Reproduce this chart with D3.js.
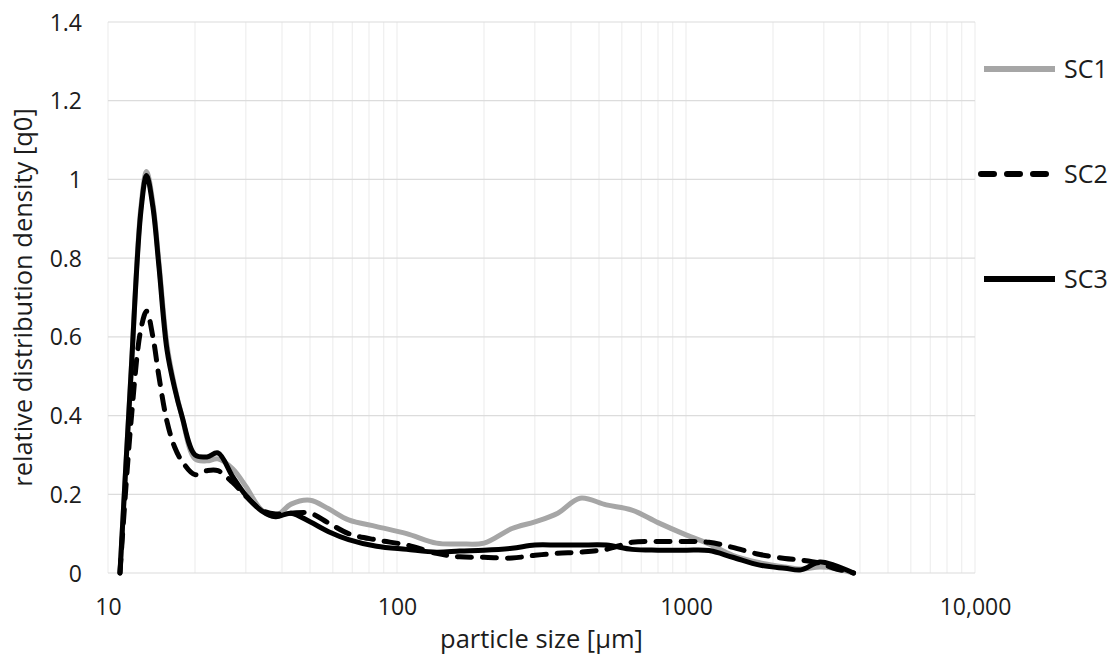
<!DOCTYPE html>
<html>
<head>
<meta charset="utf-8">
<script src="https://cdn.jsdelivr.net/npm/d3@7"></script>
<style>
  html, body { margin: 0; padding: 0; background: #fff; overflow: hidden; }
  svg { display: block; }
  svg text { font-family: "Open Sans", "Noto Sans", sans-serif; fill: #1c1c1c; }
  .tick text { font-size: 23px; }
  .axis-label { font-size: 25.5px; }
  .legend text { font-size: 25px; }
</style>
</head>
<body>
<svg width="1114" height="659"></svg>
<script>
// particle size bins [µm]
const sizes = [11, 12, 13, 13.6, 14.3, 15, 16, 17, 18, 20, 22, 24, 27, 30, 34, 38, 43, 50, 58, 68, 85,
  108, 137, 165, 200, 250, 300, 360, 430, 530, 650, 800, 1000, 1200, 1450, 1800, 2200, 2500, 2900, 3250, 3800];

const sc1 = [0, 0.50, 0.93, 1.02, 0.94, 0.79, 0.58, 0.475, 0.40, 0.29, 0.285, 0.29, 0.265, 0.22, 0.16, 0.145, 0.175, 0.185, 0.163, 0.135, 0.118,
  0.10, 0.076, 0.074, 0.076, 0.113, 0.13, 0.152, 0.19, 0.173, 0.16, 0.128, 0.097, 0.074, 0.045, 0.026, 0.015, 0.01, 0.015, 0.012, 0];
const sc2 = [0, 0.38, 0.62, 0.665, 0.60, 0.50, 0.385, 0.32, 0.285, 0.25, 0.26, 0.26, 0.23, 0.195, 0.16, 0.15, 0.152, 0.152, 0.127, 0.10, 0.084,
  0.071, 0.05, 0.041, 0.04, 0.038, 0.045, 0.05, 0.053, 0.06, 0.078, 0.08, 0.08, 0.078, 0.065, 0.047, 0.037, 0.033, 0.025, 0.012, 0];
const sc3 = [0, 0.50, 0.92, 1.01, 0.93, 0.78, 0.567, 0.47, 0.40, 0.30, 0.295, 0.305, 0.245, 0.197, 0.158, 0.143, 0.152, 0.13, 0.105, 0.085, 0.068,
  0.06, 0.053, 0.056, 0.058, 0.063, 0.071, 0.071, 0.071, 0.071, 0.06, 0.058, 0.058, 0.057, 0.04, 0.02, 0.012, 0.008, 0.028, 0.02, 0];

const seriesNames = ['SC1', 'SC2', 'SC3'];
const xTicks = [10, 100, 1000, 10000];
const yTicks = [0, 0.2, 0.4, 0.6, 0.8, 1, 1.2, 1.4];

const svg = d3.select('svg');
const margin = { left: 108, top: 22, right: 139, bottom: 86 };
const innerWidth = +svg.attr('width') - margin.left - margin.right;
const innerHeight = +svg.attr('height') - margin.top - margin.bottom;

const xScale = d3.scaleLog().domain([10, 10000]).range([0, innerWidth]);
const yScale = d3.scaleLinear().domain([0, 1.4]).range([innerHeight, 0]);

const g = svg.append('g')
  .attr('transform', `translate(${margin.left}, ${margin.top})`);

// vertical grid (log minor lines)
g.append('g').selectAll('line').data(xScale.ticks())
  .enter().append('line')
    .attr('x1', d => xScale(d)).attr('x2', d => xScale(d))
    .attr('y1', 0).attr('y2', innerHeight)
    .attr('stroke', '#ebebeb').attr('stroke-width', 1);

// horizontal grid
g.append('g').selectAll('line').data(yTicks)
  .enter().append('line')
    .attr('x1', 0).attr('x2', innerWidth)
    .attr('y1', d => yScale(d)).attr('y2', d => yScale(d))
    .attr('stroke', '#dcdcdc').attr('stroke-width', 1.2);

const xAxisG = g.append('g')
  .attr('transform', `translate(0, ${innerHeight})`)
  .call(d3.axisBottom(xScale).tickValues(xTicks).tickFormat(d => d === 10000 ? '10,000' : d).tickSize(0).tickPadding(0));
xAxisG.selectAll('.domain').remove();
xAxisG.selectAll('.tick text').attr('dy', null).attr('y', 42);

const yAxisG = g.append('g')
  .call(d3.axisLeft(yScale).tickValues(yTicks).tickFormat(d => d).tickSize(0).tickPadding(26));
yAxisG.selectAll('.domain').remove();
yAxisG.selectAll('.tick text').attr('dy', null).attr('y', 8);
svg.selectAll('.tick text').attr('fill', '#1c1c1c');

g.append('text')
  .attr('class', 'axis-label')
  .attr('x', innerWidth / 2)
  .attr('y', innerHeight + 75)
  .attr('text-anchor', 'middle')
  .text('particle size [µm]');

g.append('text')
  .attr('class', 'axis-label')
  .attr('transform', `translate(${32 - margin.left}, ${innerHeight / 2}) rotate(-90)`)
  .attr('text-anchor', 'middle')
  .text('relative distribution density [q0]');

const styles = [
  { color: '#a6a6a6', dash: null },
  { color: '#000', dash: '14,11' },
  { color: '#000', dash: null }
];

const line = d3.line()
  .x(d => xScale(d[0]))
  .y(d => yScale(d[1]))
  .curve(d3.curveCatmullRom.alpha(0.5));

[sc1, sc2, sc3].forEach((vals, i) => {
  g.append('path')
    .datum(sizes.map((s, j) => [s, vals[j]]))
    .attr('fill', 'none')
    .attr('stroke', styles[i].color)
    .attr('stroke-width', 5)
    .attr('stroke-linecap', 'round')
    .attr('stroke-linejoin', 'round')
    .attr('stroke-dasharray', styles[i].dash)
    .attr('d', line);
});

// legend
const legend = svg.append('g').attr('class', 'legend');
seriesNames.forEach((name, i) => {
  const ly = 69 + i * 105;
  legend.append('line')
    .attr('x1', i === 1 ? 981 : 984).attr('x2', i === 1 ? 1052 : 1055)
    .attr('y1', ly).attr('y2', ly)
    .attr('stroke', styles[i].color)
    .attr('stroke-width', 6)
    .attr('stroke-linecap', i === 1 ? 'round' : 'butt')
    .attr('stroke-dasharray', styles[i].dash ? '13,13' : null);
  legend.append('text')
    .attr('x', 1064).attr('y', ly + 9)
    .text(name);
});
</script>
</body>
</html>
